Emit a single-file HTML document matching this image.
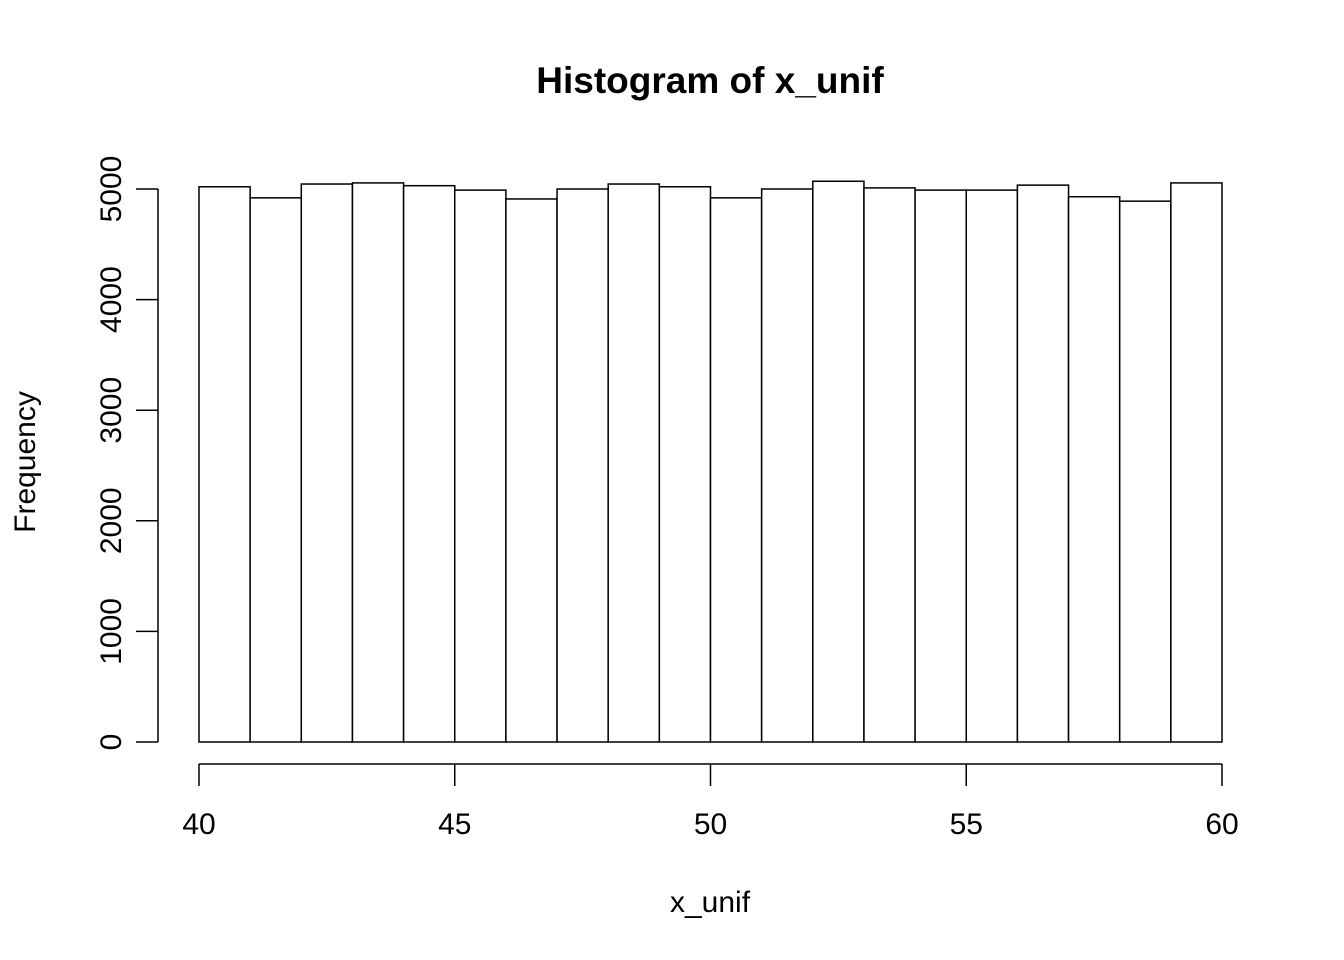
<!DOCTYPE html>
<html><head><meta charset="utf-8"><style>
html,body{margin:0;padding:0;background:#fff;}
svg{display:block;font-family:"Liberation Sans",Arial,sans-serif;}
</style></head><body>
<svg id="chart" width="1344" height="960" viewBox="0 0 1344 960">
<text x="710" y="93" text-anchor="middle" font-size="37" font-weight="bold">Histogram of x_unif</text>
<text x="710" y="912" text-anchor="middle" font-size="30">x_unif</text>
<text transform="translate(35,462) rotate(-90)" text-anchor="middle" font-size="30">Frequency</text>
<g id="bars"></g><g id="xaxis"></g><g id="yaxis"></g>
</svg>
<script>
const binStarts=[40,41,42,43,44,45,46,47,48,49,50,51,52,53,54,55,56,57,58,59];
const counts=[5020,4920,5045,5055,5030,4990,4910,5000,5045,5020,4920,5000,5070,5010,4990,4990,5035,4930,4890,5055];
const xTicks=[40,45,50,55,60];
const yTicks=[0,1000,2000,3000,4000,5000];
const binWidth=1;
const NS="http://www.w3.org/2000/svg";
const xs=v=>199+(v-40)*(1222-199)/20;
const ys=v=>742-v*553/5000;
const bars=document.getElementById('bars');
binStarts.forEach((b,i)=>{
 const r=document.createElementNS(NS,'rect');
 r.setAttribute('x',xs(b));r.setAttribute('y',ys(counts[i]));
 r.setAttribute('width',xs(b+binWidth)-xs(b));r.setAttribute('height',ys(0)-ys(counts[i]));
 r.setAttribute('fill','#fff');r.setAttribute('stroke','#000');r.setAttribute('stroke-width','1.5');
 
 
 bars.appendChild(r);
});
const xa=document.getElementById('xaxis');
function line(g,x1,y1,x2,y2,name){const l=document.createElementNS(NS,'line');l.setAttribute('x1',x1);l.setAttribute('y1',y1);l.setAttribute('x2',x2);l.setAttribute('y2',y2);l.setAttribute('stroke','#000');l.setAttribute('stroke-width','1.5');


g.appendChild(l);}
function text(g,x,y,s,tr,name){const t=document.createElementNS(NS,'text');t.setAttribute('x',x);t.setAttribute('y',y);t.setAttribute('font-size','30');t.setAttribute('text-anchor','middle');if(tr)t.setAttribute('transform',tr);t.textContent=s;


g.appendChild(t);}
line(xa,xs(xTicks[0]),764,xs(xTicks[xTicks.length-1]),764,'x-axis-line');
xTicks.forEach(v=>{line(xa,xs(v),764,xs(v),786,'x-tick');text(xa,xs(v),834,String(v),null,'x-tick-label');});
const ya=document.getElementById('yaxis');
line(ya,158,ys(yTicks[0]),158,ys(yTicks[yTicks.length-1]),'y-axis-line');
yTicks.forEach(v=>{line(ya,136,ys(v),158,ys(v),'y-tick');text(ya,110,ys(v)+11,String(v),'rotate(-90,110,'+ys(v)+')','y-tick-label');});
</script>
</body></html>
